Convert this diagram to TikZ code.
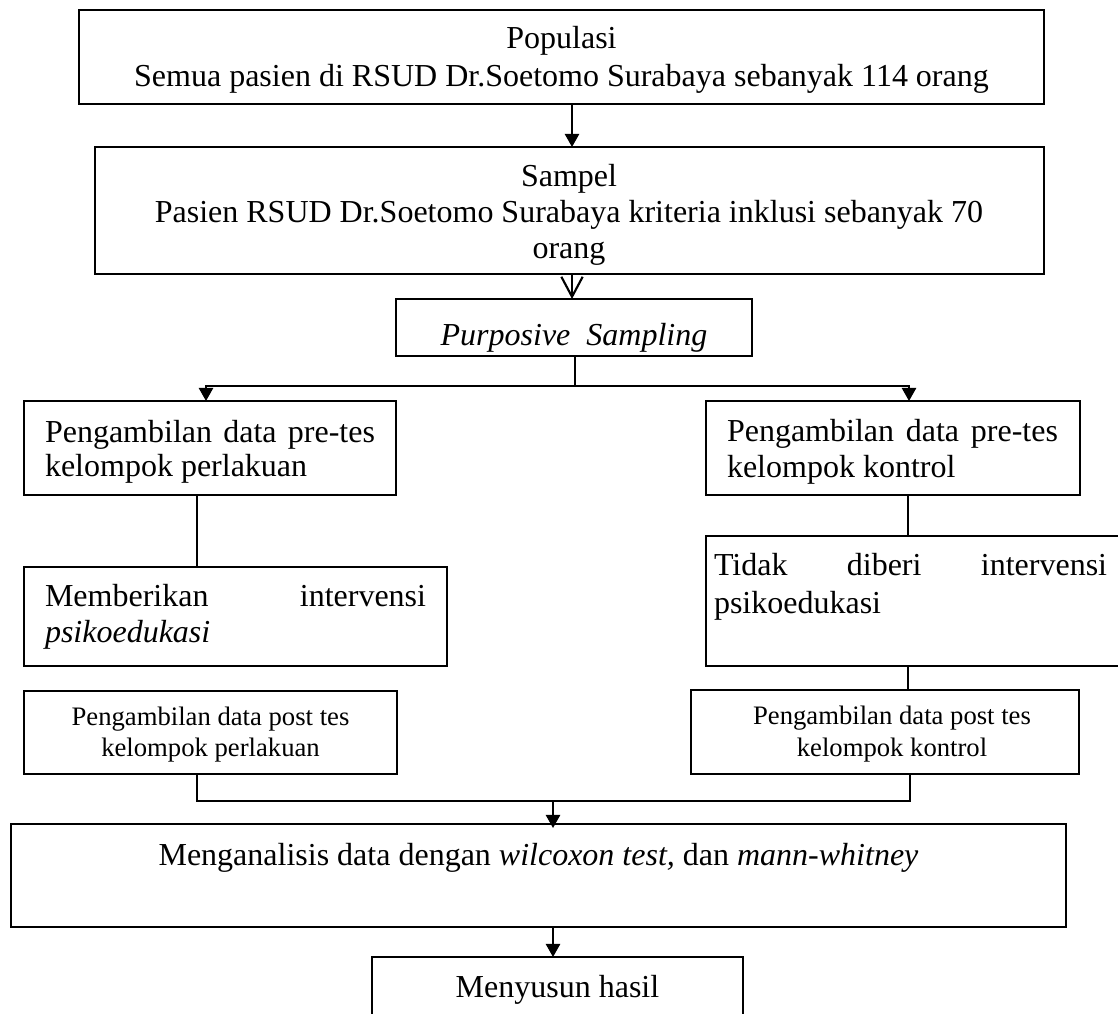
\documentclass[tikz,border=0pt]{standalone}
\usepackage{fontspec}
\setmainfont{Liberation Serif}
\usetikzlibrary{arrows.meta,calc,fit}
\begin{document}
\begin{tikzpicture}[x=0.375pt,y=-0.375pt,
  box/.style={draw,line width=0.75pt,inner sep=0pt,outer sep=0pt},
  txt/.style={inner sep=0pt,outer sep=0pt,font=\fontsize{12}{13.8}\selectfont},
  stxt/.style={inner sep=0pt,outer sep=0pt,font=\fontsize{10}{11.5}\selectfont},
  ln/.style={line width=0.8pt},
  arr/.style={line width=0.8pt,-{Triangle[length=4.9pt,width=5.3pt]}},
  oarr/.style={line width=0.8pt,-{Straight Barb[length=7.5pt,width=8pt,line width=0.8pt]}}]
\useasboundingbox[fill=white] (0,0) rectangle (1118,1013);

% boxes
\node[box,fit={(79,10) (1044,104)}] (b1) {};
\node[box,fit={(95,147) (1044,274)}] (b2) {};
\node[box,fit={(396,299) (752,356)}] (pur) {};
\node[box,fit={(24,401) (396,495)}] (preL) {};
\node[box,fit={(706,401) (1080,495)}] (preR) {};
\node[box,fit={(24,567) (447,666)}] (memb) {};
\node[box,fit={(706,536) (1130,666)}] (tidak) {};
\node[box,fit={(24,691) (397,774)}] (postL) {};
\node[box,fit={(691,690) (1079,774)}] (postR) {};
\node[box,fit={(11,824) (1066,927)}] (anal) {};
\node[box,fit={(372,957) (743,1030)}] (hasil) {};

% texts
\node[txt,anchor=base] (t1a) at (561.5,48) {Populasi};
\node[txt,anchor=base] (t1b) at (561.5,86) {Semua pasien di RSUD Dr.Soetomo Surabaya sebanyak 114 orang};
\node[txt,anchor=base] (t2a) at (569,186) {Sampel};
\node[txt,anchor=base] (t2b) at (569,222) {Pasien RSUD Dr.Soetomo Surabaya kriteria inklusi sebanyak 70};
\node[txt,anchor=base] (t2c) at (569,258) {orang};
\node[txt,anchor=base] (t3) at (574,345) {\itshape Purposive~~Sampling};
\node[txt,anchor=base west] (t4a) at (45,442) {\makebox[123.75pt][s]{Pengambilan data pre-tes}};
\node[txt,anchor=base west] (t4b) at (45,476) {kelompok perlakuan};
\node[txt,anchor=base west] (t5a) at (727,441) {\makebox[124.1pt][s]{Pengambilan data pre-tes}};
\node[txt,anchor=base west] (t5b) at (727,477) {kelompok kontrol};
\node[txt,anchor=base west] (t6a) at (45,606) {\makebox[142.9pt][s]{Memberikan intervensi}};
\node[txt,anchor=base west] (t6b) at (45,642) {\itshape psikoedukasi};
\node[txt,anchor=base west] (t7a) at (714,575) {\makebox[147.4pt][s]{Tidak diberi intervensi}};
\node[txt,anchor=base west] (t7b) at (714,613) {psikoedukasi};
\node[stxt,anchor=base] (t8a) at (210.5,725) {Pengambilan data post tes};
\node[stxt,anchor=base] (t8b) at (210.5,756) {kelompok perlakuan};
\node[stxt,anchor=base] (t9a) at (892,724) {Pengambilan data post tes};
\node[stxt,anchor=base] (t9b) at (892,756) {kelompok kontrol};
\node[txt,anchor=base] (t10) at (538.5,865) {Menganalisis data dengan \textit{wilcoxon test,} dan \textit{mann-whitney}};
\node[txt,anchor=base] (t11) at (557.5,997) {Menyusun hasil};

% helper coordinates
\coordinate (xa) at (572,0);
\coordinate (xs) at (575,386);
\coordinate (xl) at (206,0);
\coordinate (xr) at (909,0);
\coordinate (xl2) at (197,0);
\coordinate (xr2) at (908,0);
\coordinate (xr3) at (910,0);
\coordinate (yb) at (0,801);
\coordinate (xb) at (553,0);

% connectors
\draw[arr] (b1.south -| xa) -- (b2.north -| xa);
\draw[oarr] (b2.south -| xa) -- (pur.north -| xa);
\draw[ln] (pur.south -| xs) -- (xs);
\draw[arr] (xs) -| (preL.north -| xl);
\draw[arr] (xs) -| (preR.north -| xr);
\draw[ln] (preL.south -| xl2) -- (memb.north -| xl2);
\draw[ln] (preR.south -| xr2) -- (tidak.north -| xr2);
\draw[ln] (tidak.south -| xr2) -- (postR.north -| xr2);
\draw[ln,line width=1pt] (postL.south -| xl2) -- (yb -| xl2) -- (yb -| xr3) -- (postR.south -| xr3);
\draw[arr] (yb -| xb) -- ($(anal.north -| xb)+(0,4)$);
\draw[arr] (anal.south -| xb) -- (hasil.north -| xb);
\end{tikzpicture}
\end{document}
